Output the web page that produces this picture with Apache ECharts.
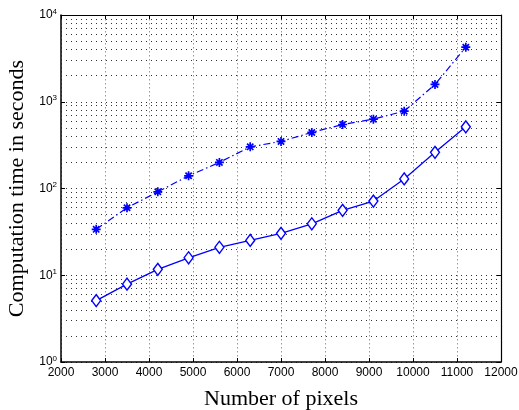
<!DOCTYPE html>
<html>
<head>
<meta charset="utf-8">
<script src="https://cdn.jsdelivr.net/npm/echarts@6/dist/echarts.min.js"></script>
<style>
html,body{margin:0;padding:0;background:#fff;}
#c{width:519px;height:410px;}
</style>
</head>
<body>
<div id="c"></div>
<script>
var pixels = [2800, 3500, 4200, 4900, 5600, 6300, 7000, 7700, 8400, 9100, 9800, 10500, 11200];
var timeDiamond = [5.1, 7.9, 11.7, 15.9, 21.0, 25.2, 30.4, 39.2, 56, 71.6, 129, 261, 514];
var timeStar = [33.8, 59.9, 91.6, 140, 200, 302, 349, 443, 547, 630, 779, 1582, 4256];
var xTicks = [2000, 3000, 4000, 5000, 6000, 7000, 8000, 9000, 10000, 11000, 12000];
var yTicks = [1, 10, 100, 1000, 10000];
var minorGrid = [];
for (var d = 1; d < 10000; d *= 10) {
  for (var k = 2; k <= 9; k++) minorGrid.push(k * d);
}

var blue = '#0000ff';
var chart = echarts.init(document.getElementById('c'));

function pairs(xs, ys) {
  return xs.map(function (x, i) { return [x, ys[i]]; });
}

var tickFont = 'Liberation Sans, Arial, Helvetica, sans-serif';
var titleFont = 'Liberation Serif, Times New Roman, serif';
var hGrid = { color: '#333', type: [1, 4], width: 1 };

var option = {
  animation: false,
  backgroundColor: '#fff',
  grid: { left: 61, right: 18, top: 15, bottom: 48, show: false, containLabel: false, outerBoundsMode: 'none' },
  xAxis: [{
    type: 'value',
    min: 2000, max: 12000, interval: 1000,
    position: 'bottom',
    name: 'Number of pixels',
    nameLocation: 'middle',
    nameGap: 26,
    nameTextStyle: { fontFamily: titleFont, fontSize: 22, color: '#000' },
    axisLine: { show: true, onZero: false, lineStyle: { color: '#000', width: 1.5 } },
    axisTick: { show: true, inside: true, length: 4, lineStyle: { color: '#000' } },
    axisLabel: {
      fontFamily: tickFont, fontSize: 12, color: '#000', margin: 5,
      formatter: function (v) { return xTicks.indexOf(v) >= 0 ? String(v) : ''; }
    },
    splitLine: { show: true, lineStyle: { color: '#999', type: [1.5, 2.5], width: 1 } }
  }, {
    type: 'value',
    min: 2000, max: 12000, interval: 1000,
    position: 'top',
    axisLine: { show: true, onZero: false, lineStyle: { color: '#000', width: 1.2 } },
    axisTick: { show: true, inside: true, length: 4, lineStyle: { color: '#000' } },
    axisLabel: { show: false },
    splitLine: { show: false }
  }],
  yAxis: [{
    type: 'log',
    logBase: 10,
    min: 1, max: 10000,
    position: 'left',
    name: 'Computation time in seconds',
    nameLocation: 'middle',
    nameGap: 32,
    nameTextStyle: { fontFamily: titleFont, fontSize: 22, color: '#000' },
    axisLine: { show: true, onZero: false, lineStyle: { color: '#000', width: 1.5 } },
    axisTick: { show: true, inside: true, length: 4, lineStyle: { color: '#000' } },
    axisLabel: {
      margin: 4,
      formatter: function (v) {
        var e = Math.round(Math.log10(v));
        return '{b|10}{s|' + e + '}';
      },
      rich: {
        b: { fontFamily: tickFont, fontSize: 12, color: '#000' },
        s: { fontFamily: tickFont, fontSize: 8, color: '#000', verticalAlign: 'top', padding: [0, 0, 7, 0] }
      }
    },
    splitLine: { show: true, lineStyle: hGrid }
  }, {
    type: 'log',
    logBase: 10,
    min: 1, max: 10000,
    position: 'right',
    axisLine: { show: true, onZero: false, lineStyle: { color: '#000', width: 1.2 } },
    axisTick: { show: true, inside: true, length: 4, lineStyle: { color: '#000' } },
    axisLabel: { show: false },
    splitLine: { show: false }
  }],
  series: [{
    type: 'line',
    data: pairs(pixels, timeStar),
    xAxisIndex: 0, yAxisIndex: 0,
    z: 3,
    lineStyle: { color: blue, width: 1.2, type: [7, 3, 1.5, 3] },
    symbol: 'path://M0,-5L0,5M-5,0L5,0M-3.5,-3.5L3.5,3.5M-3.5,3.5L3.5,-3.5',
    symbolKeepAspect: true,
    symbolSize: 9,
    itemStyle: { color: blue, borderColor: blue, borderWidth: 1.7 },
    markLine: {
      silent: true,
      symbol: 'none',
      label: { show: false },
      lineStyle: hGrid,
      data: minorGrid.map(function (v) { return { yAxis: v }; }),
      z: 1
    }
  }, {
    type: 'line',
    data: pairs(pixels, timeDiamond),
    xAxisIndex: 0, yAxisIndex: 0,
    z: 3,
    lineStyle: { color: blue, width: 1.3, type: 'solid' },
    symbol: 'diamond',
    symbolSize: [9, 12],
    itemStyle: { color: '#fff', borderColor: blue, borderWidth: 1.4 }
  }]
};
chart.setOption(option);
</script>
</body>
</html>
